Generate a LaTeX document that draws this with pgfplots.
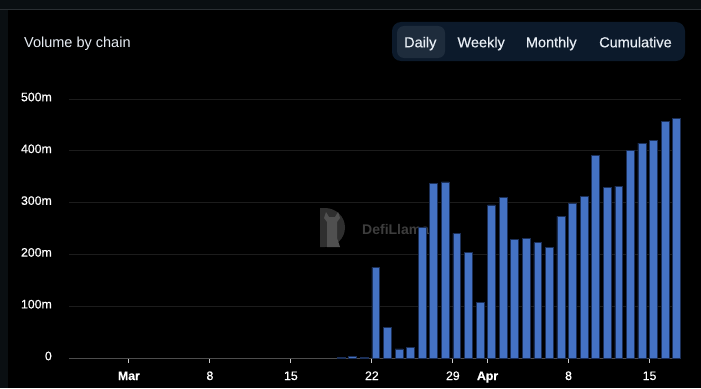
\documentclass[border=0pt]{standalone}
\usepackage{fontspec}
\setmainfont{Liberation Sans}
\newfontfamily\medfont[FakeBold=0.45]{Liberation Sans}
\newfontfamily\btnfont[FakeBold=0.2]{Liberation Sans}
\usepackage{pgfplots}
\usepackage{pgfplotstable}
\pgfplotsset{compat=1.18}
\definecolor{barblue}{HTML}{4472C4}
\definecolor{baredge}{HTML}{1B2F57}
\definecolor{gridc}{HTML}{1C1C1C}
\definecolor{axisc}{HTML}{4D4D4D}
\definecolor{topstrip}{HTML}{0A0F12}
\definecolor{topline}{HTML}{2A2F33}
\definecolor{btnbg}{HTML}{0C1A2B}
\definecolor{btnsel}{HTML}{1E2C3C}
\definecolor{btntext}{HTML}{E8EEF5}
\definecolor{wm}{HTML}{3D3D3D}
\definecolor{wmicon}{HTML}{2F2F2F}
\definecolor{wmllama}{HTML}{505050}

% day index: 0 = Mar 1
\pgfplotstableread{
d v
18 1.5
19 2.5
20 1.5
21 175
22 58.5
23 17.4
24 19.9
25 251.5
26 336.5
27 339.8
28 240.7
29 204
30 108
31 295.4
32 310
33 228.4
34 231
35 222.6
36 213.6
37 273.5
38 299
39 312.7
40 390.6
41 330
42 332
43 401.5
44 415
45 419.5
46 457
47 462
}\voldata

\begin{document}
\begin{tikzpicture}[x=1bp,y=1bp]
\fill[black] (-69,-30) rectangle (632,358);
\useasboundingbox (-69,-30) rectangle (632,358);
\fill[topstrip] (-69,349) rectangle (632,358);
\draw[topline, line width=1bp] (-69,348.5) -- (632,348.5);
\fill[topstrip] (-69,-30) rectangle (-61,348);
% title
\node[anchor=base west, inner sep=0pt, text=btntext, font=\fontsize{14.5bp}{17bp}\selectfont] at (-45,310.5) {Volume by chain};
% buttons
\fill[btnbg, rounded corners=9bp] (323,297) rectangle (616,336);
\fill[btnsel, rounded corners=7bp] (328,300) rectangle (376,332);
\begin{scope}[every node/.style={anchor=base west, inner sep=0pt, text=btntext, font=\btnfont\fontsize{14.5bp}{17bp}\selectfont}]
\node at (335,310.7) {Daily};
\node at (388.3,310.7) {Weekly};
\node at (456.7,310.7) {Monthly};
\node at (530,310.7) {Cumulative};
\end{scope}
% watermark
\fill[wmicon] (251,111) -- (256,111) arc[start angle=-90, end angle=90, x radius=20, y radius=19.5] -- (251,150) -- cycle;
\fill[wmllama] (258,111) -- (258,136) -- (255,140) -- (257,146) -- (260,141) -- (266,141) -- (269,146) -- (271,140) -- (268,136) -- (268,120) -- (271,111) -- cycle;
\node[anchor=base west, inner sep=0pt, text=wm, font=\bfseries\fontsize{14bp}{16bp}\selectfont] at (293,124) {DefiLlama};
\begin{axis}[
  at={(0,0)}, anchor=south west,
  scale only axis, width=612bp, height=259bp,
  xmin=-5.18, xmax=47.72, ymin=0, ymax=500,
  ybar, bar width=0.68, bar shift=0.34,
  axis x line*=bottom, axis y line*=left,
  x axis line style={axisc, line width=1bp},
  y axis line style={draw=none},
  ymajorgrids, grid style={gridc, line width=1bp},
  tick align=outside, major tick length=5bp,
  xtick style={color=white!80!black, line width=1bp},
  ytick style={draw=none},
  ytick={0,100,200,300,400,500},
  yticklabels={0,100m,200m,300m,400m,500m},
  xtick={0,7,14,21,28,31,38,45},
  xticklabels={\textbf{Mar},8,15,22,29,\textbf{Apr},8,15},
  yticklabel style={font=\medfont\fontsize{12.3bp}{14bp}\selectfont, text=white, inner sep=0pt, anchor=east, xshift=-12bp, yshift=2bp},
  xticklabel style={font=\medfont\fontsize{12.3bp}{14bp}\selectfont, text=white, inner sep=0pt, anchor=base, yshift=-17bp},
]
\addplot[fill=barblue, draw=baredge, line width=0.6bp] table[x=d, y=v] {\voldata};
\end{axis}
\end{tikzpicture}
\end{document}
